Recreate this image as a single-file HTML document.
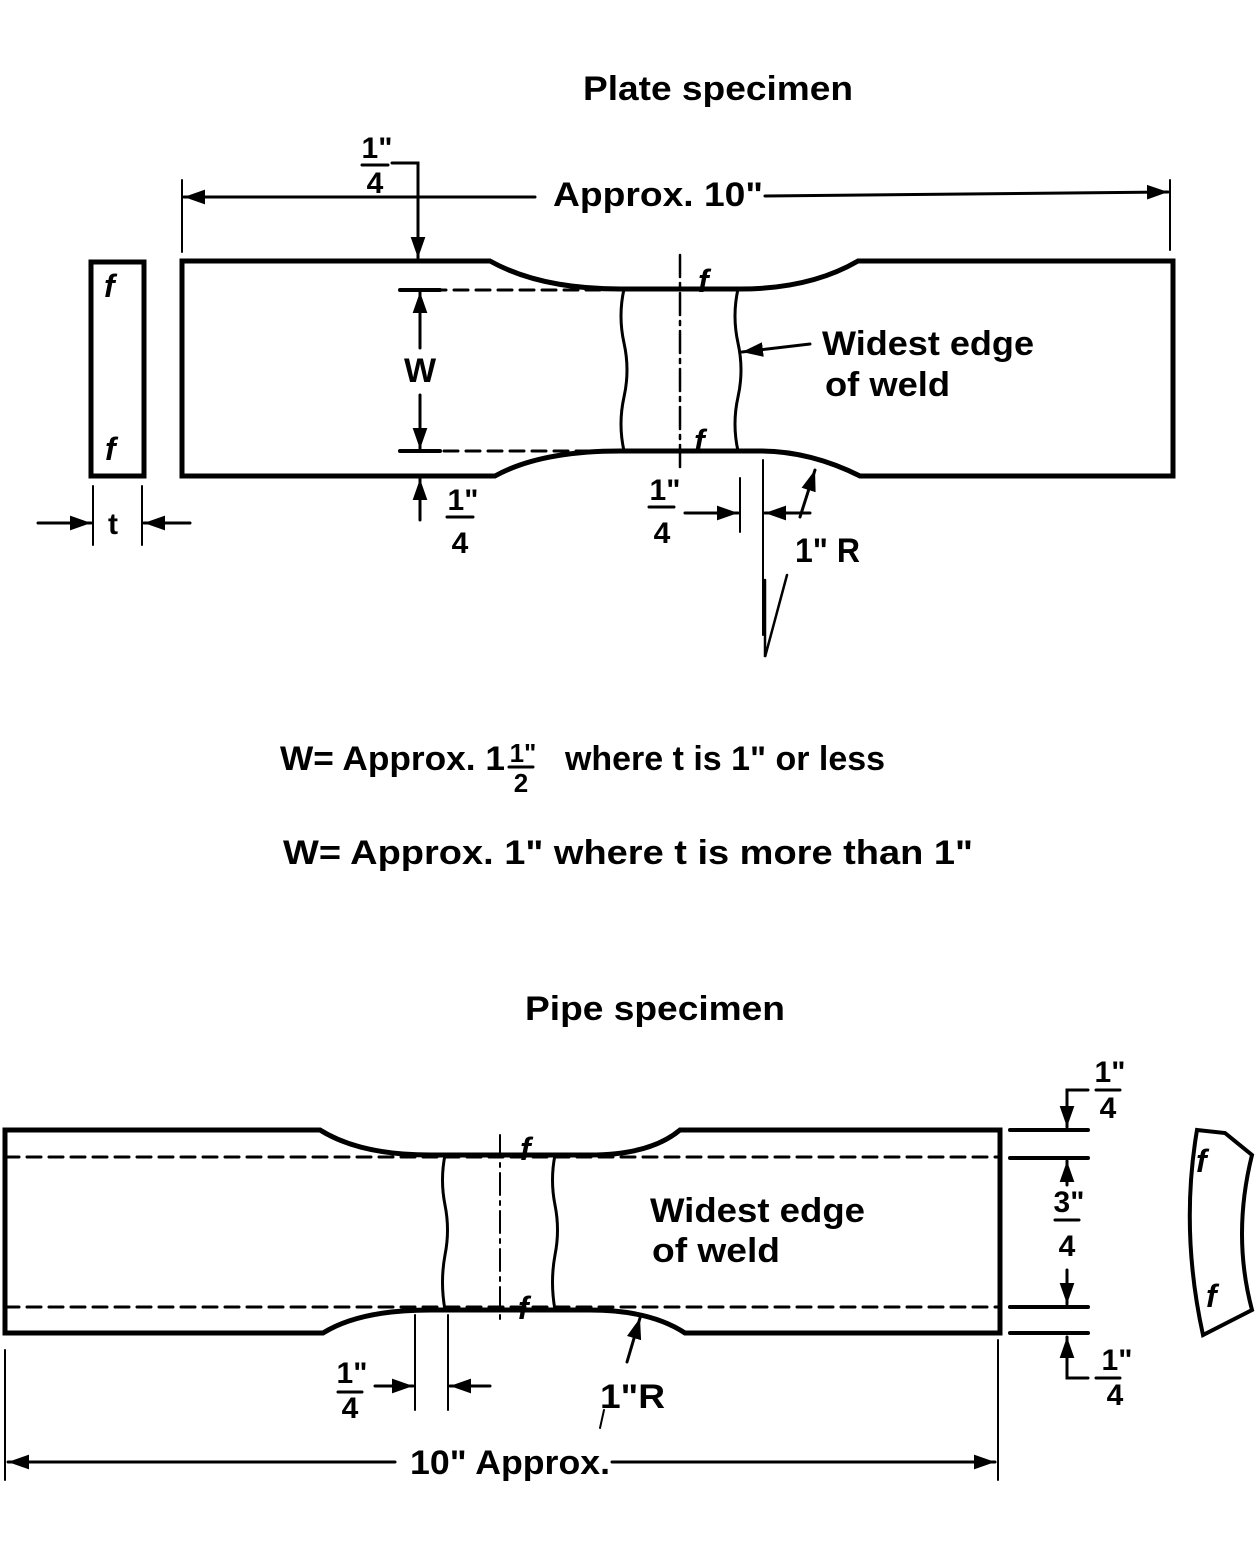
<!DOCTYPE html>
<html><head><meta charset="utf-8"><style>
html,body{margin:0;padding:0;background:#fff}
svg{display:block}
text{font-family:"Liberation Sans",sans-serif;fill:#000}
</style></head><body>
<svg width="1256" height="1551" viewBox="0 0 1256 1551" xmlns="http://www.w3.org/2000/svg">
<defs>
<marker id="a" viewBox="0 0 10 10" refX="10" refY="5" markerWidth="7" markerHeight="7" orient="auto-start-reverse"><path d="M0,1.5 L10,5 L0,8.5 z" fill="#000"/></marker>
</defs>
<g stroke="#000" fill="none" stroke-linecap="round">
<!-- PLATE -->
<path d="M182,261 L490,261 Q540,289 620,289 L740,289 Q810,289 858,261 L1173,261 L1173,476 L860,476 Q810,451 760,451 L620,451 Q540,451 495,476 L182,476 Z" stroke-width="5"/>
<rect x="91" y="262" width="53" height="214" stroke-width="5"/>
<g stroke-width="3" stroke-dasharray="14,8">
<line x1="410" y1="290" x2="600" y2="290"/><line x1="400" y1="451" x2="600" y2="451"/>
</g>
<line x1="680" y1="255" x2="680" y2="472" stroke-width="2.5" stroke-dasharray="22,6,4,6"/>
<path d="M624,289 q-6,27 0,54 q6,27 0,54 q-6,27 0,54" stroke-width="3"/>
<path d="M738,289 q-6,27 0,54 q6,27 0,54 q-6,27 0,54" stroke-width="3"/>
<!-- top dim -->
<line x1="182" y1="180" x2="182" y2="252" stroke-width="2"/>
<line x1="1170" y1="180" x2="1170" y2="250" stroke-width="2"/>
<line x1="535" y1="197" x2="184" y2="197" stroke-width="3" marker-end="url(#a)"/>
<line x1="765" y1="196" x2="1168" y2="192" stroke-width="3" marker-end="url(#a)"/>
<path d="M392,163 L418,163 L418,258" stroke-width="3" marker-end="url(#a)"/>
<!-- W -->
<line x1="400" y1="290" x2="440" y2="290" stroke-width="4"/><line x1="400" y1="451" x2="440" y2="451" stroke-width="4"/>
<line x1="420" y1="348" x2="420" y2="292" stroke-width="3" marker-end="url(#a)"/>
<line x1="420" y1="395" x2="420" y2="449" stroke-width="3" marker-end="url(#a)"/>
<line x1="420" y1="520" x2="420" y2="479" stroke-width="3" marker-end="url(#a)"/>
<!-- t -->
<line x1="93" y1="486" x2="93" y2="545" stroke-width="2"/><line x1="142" y1="486" x2="142" y2="545" stroke-width="2"/>
<line x1="38" y1="523" x2="91" y2="523" stroke-width="3" marker-end="url(#a)"/>
<line x1="190" y1="523" x2="144" y2="523" stroke-width="3" marker-end="url(#a)"/>
<!-- 1/4 right -->
<line x1="740" y1="478" x2="740" y2="532" stroke-width="2"/>
<line x1="763" y1="460" x2="763" y2="635" stroke-width="2"/>
<line x1="685" y1="513" x2="738" y2="513" stroke-width="3" marker-end="url(#a)"/>
<line x1="810" y1="513" x2="765" y2="513" stroke-width="3" marker-end="url(#a)"/>
<line x1="800" y1="517" x2="815" y2="470" stroke-width="3" marker-end="url(#a)"/>
<path d="M787,575 L765,657 L765,580" stroke-width="2.5"/>
<line x1="810" y1="344" x2="742" y2="352" stroke-width="3" marker-end="url(#a)"/>
<!-- PIPE -->
<path d="M5,1130 L320,1130 Q360,1155 430,1155 L590,1155 Q650,1155 680,1130 L1000,1130 L1000,1333 L685,1333 Q650,1310 590,1310 L430,1310 Q360,1310 323,1333 L5,1333 Z" stroke-width="5"/>
<g stroke-width="3" stroke-dasharray="14,8">
<line x1="5" y1="1157" x2="1000" y2="1157"/><line x1="5" y1="1307" x2="1000" y2="1307"/>
</g>
<line x1="500" y1="1135" x2="500" y2="1325" stroke-width="2" stroke-dasharray="22,6,4,6"/>
<path d="M445,1155 q-5,25 0,50 q5,25 0,50 q-5,27 0,55" stroke-width="3"/>
<path d="M555,1155 q-5,25 0,50 q5,25 0,50 q-5,27 0,55" stroke-width="3"/>
<g stroke-width="4">
<line x1="1010" y1="1130" x2="1088" y2="1130"/><line x1="1010" y1="1158" x2="1088" y2="1158"/>
<line x1="1010" y1="1307" x2="1088" y2="1307"/><line x1="1010" y1="1333" x2="1088" y2="1333"/>
</g>
<path d="M1088,1090 L1067,1090 L1067,1127" stroke-width="3" marker-end="url(#a)"/>
<line x1="1067" y1="1185" x2="1067" y2="1161" stroke-width="3" marker-end="url(#a)"/>
<line x1="1067" y1="1270" x2="1067" y2="1304" stroke-width="3" marker-end="url(#a)"/>
<path d="M1088,1378 L1067,1378 L1067,1337" stroke-width="3" marker-end="url(#a)"/>
<path d="M1197,1130 L1225,1133 L1252,1155 Q1232,1235 1252,1310 L1203,1335 Q1180,1230 1197,1130 Z" stroke-width="4"/>
<line x1="5" y1="1350" x2="5" y2="1480" stroke-width="2"/><line x1="998" y1="1340" x2="998" y2="1480" stroke-width="2"/>
<line x1="395" y1="1462" x2="8" y2="1462" stroke-width="3" marker-end="url(#a)"/>
<line x1="612" y1="1462" x2="995" y2="1462" stroke-width="3" marker-end="url(#a)"/>
<line x1="415" y1="1315" x2="415" y2="1410" stroke-width="2"/><line x1="448" y1="1315" x2="448" y2="1410" stroke-width="2"/>
<line x1="375" y1="1386" x2="413" y2="1386" stroke-width="3" marker-end="url(#a)"/>
<line x1="490" y1="1386" x2="450" y2="1386" stroke-width="3" marker-end="url(#a)"/>
<line x1="627" y1="1362" x2="640" y2="1318" stroke-width="3" marker-end="url(#a)"/>
<line x1="604" y1="1410" x2="600" y2="1428" stroke-width="2"/>
<line x1="362" y1="1392" x2="338" y2="1392" stroke-width="3"/>
<line x1="1096" y1="1090" x2="1120" y2="1090" stroke-width="3"/>
<line x1="1096" y1="1378" x2="1120" y2="1378" stroke-width="3"/>
<line x1="1055" y1="1220" x2="1079" y2="1220" stroke-width="3"/>
<line x1="362" y1="165" x2="388" y2="165" stroke-width="3"/>
<line x1="447" y1="517" x2="473" y2="517" stroke-width="3"/>
<line x1="649" y1="507" x2="674" y2="507" stroke-width="3"/>
<line x1="509" y1="767" x2="533" y2="767" stroke-width="3"/>
</g>
<g font-size="34" font-weight="bold">
<text x="718" y="100" text-anchor="middle" textLength="270" lengthAdjust="spacingAndGlyphs">Plate specimen</text>
<text x="553" y="206" textLength="210" lengthAdjust="spacingAndGlyphs">Approx. 10"</text>
<text x="420" y="382" text-anchor="middle">W</text>
<text x="822" y="355" textLength="212" lengthAdjust="spacingAndGlyphs">Widest edge</text>
<text x="825" y="396" textLength="125" lengthAdjust="spacingAndGlyphs">of weld</text>
<text x="108" y="534" font-size="30">t</text>
<text x="795" y="562" textLength="65" lengthAdjust="spacingAndGlyphs">1" R</text>
<text x="280" y="770" textLength="225" lengthAdjust="spacingAndGlyphs">W= Approx. 1</text>
<text x="565" y="770" textLength="320" lengthAdjust="spacingAndGlyphs">where t is 1" or less</text>
<text x="283" y="864" textLength="690" lengthAdjust="spacingAndGlyphs">W= Approx.  1"  where t is more than 1"</text>
<text x="655" y="1020" text-anchor="middle" textLength="260" lengthAdjust="spacingAndGlyphs">Pipe specimen</text>
<text x="650" y="1222" textLength="215" lengthAdjust="spacingAndGlyphs">Widest edge</text>
<text x="652" y="1262" textLength="128" lengthAdjust="spacingAndGlyphs">of weld</text>
<text x="600" y="1408" textLength="65" lengthAdjust="spacingAndGlyphs">1"R</text>
<text x="410" y="1474" textLength="200" lengthAdjust="spacingAndGlyphs">10" Approx.</text>
</g>
<g font-size="30" text-anchor="middle" font-weight="bold">
<text x="377" y="158">1"</text><text x="375" y="193">4</text>
<text x="463" y="510">1"</text><text x="460" y="553">4</text>
<text x="665" y="500">1"</text><text x="662" y="543">4</text>
<text x="523" y="762" font-size="26">1"</text><text x="521" y="792" font-size="26">2</text>
<text x="1110" y="1082">1"</text><text x="1108" y="1118">4</text>
<text x="1069" y="1212">3"</text><text x="1067" y="1256">4</text>
<text x="1117" y="1370">1"</text><text x="1115" y="1405">4</text>
<text x="352" y="1383">1"</text><text x="350" y="1418">4</text>
</g>
<g font-size="32" font-style="italic" font-weight="bold" font-family="Liberation Serif">
<text x="104" y="297">f</text><text x="105" y="460">f</text>
<text x="698" y="292">f</text><text x="694" y="452">f</text>
<text x="520" y="1160">f</text><text x="518" y="1319">f</text>
<text x="1196" y="1172">f</text><text x="1206" y="1307">f</text>
</g>
</svg>
</body></html>
